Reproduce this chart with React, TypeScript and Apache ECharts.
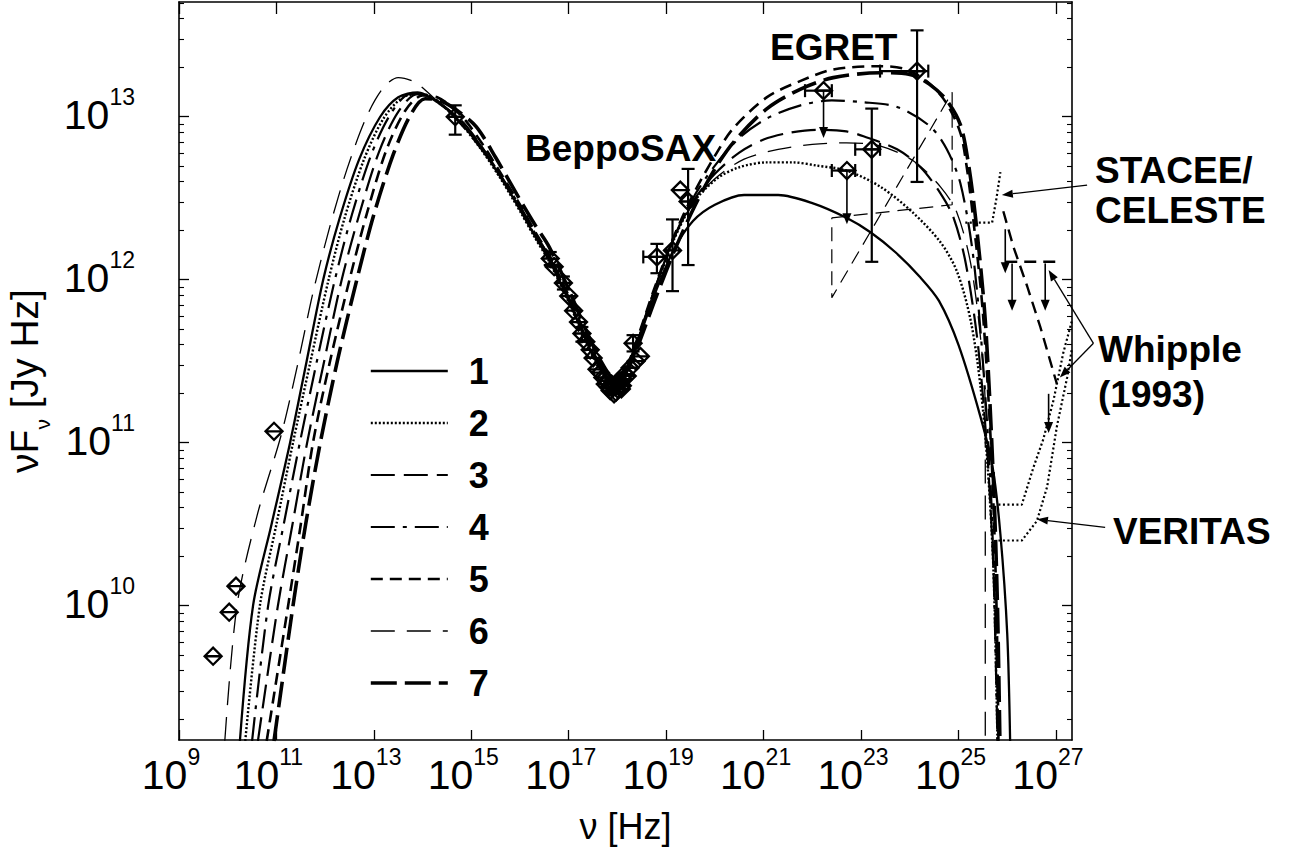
import React, { useEffect, useRef } from "react";
import * as echarts from "echarts";

const FONT = "'Liberation Sans', Arial, Helvetica, sans-serif";

// ---- axis extents (log10 units) ----
const LOG_NU_MIN = 9;
const LOG_NU_MAX = 27.33;
const LOG_F_MIN = 9.176;
const LOG_F_MAX = 13.704;

const xTickExponents = [9, 11, 13, 15, 17, 19, 21, 23, 25, 27];
const yTickExponents = [10, 11, 12, 13];
const yMinorTicks: number[] = [];
for (let n = 9; n <= 13; n++) {
  for (let k = 2; k <= 9; k++) {
    const v = n + Math.log10(k);
    if (v > LOG_F_MIN && v < LOG_F_MAX) yMinorTicks.push(v);
  }
}

// ---- model curves: [log10 nu, log10 nuFnu] ----
const modelNames = ["1", "2", "3", "4", "5", "6", "7"];

const model1 = [[10.25,9.17],[10.52,10.0],[10.9,10.5],[11.28,11.0],[11.62,11.5],[11.96,12.0],[12.3,12.38],[12.7,12.74],[13.13,13.0],[13.5,13.12],[13.9,13.15],[14.3,13.09],[14.7,12.99],[15.2,12.81],[15.6,12.63],[16.0,12.43],[16.3,12.27],[16.6,12.12],[17.0,11.87],[17.35,11.63],[17.65,11.45],[17.9,11.36],[18.1,11.38],[18.35,11.56],[18.75,11.9],[19.15,12.18],[19.55,12.36],[20.0,12.46],[20.6,12.52],[21.3,12.52],[22.0,12.47],[22.7,12.38],[23.2,12.29],[23.7,12.17],[24.2,12.02],[24.6,11.87],[25.0,11.6],[25.45,11.16],[25.7,10.85],[25.86,10.44],[26.0,9.83],[26.06,9.17]];
const model2 = [[10.36,9.17],[10.66,10.0],[11.0,10.5],[11.34,11.0],[11.7,11.5],[12.07,12.0],[12.4,12.38],[12.8,12.74],[13.2,12.99],[13.6,13.12],[14.0,13.14],[14.4,13.07],[14.75,12.97],[15.2,12.8],[15.6,12.62],[16.0,12.42],[16.3,12.26],[16.6,12.11],[17.0,11.86],[17.35,11.62],[17.65,11.44],[17.9,11.35],[18.1,11.38],[18.35,11.57],[18.75,11.92],[19.15,12.24],[19.55,12.47],[20.04,12.62],[20.5,12.69],[21.07,12.72],[21.6,12.72],[22.1,12.7],[22.7,12.67],[23.4,12.57],[24.07,12.41],[24.63,12.23],[24.97,12.05],[25.25,11.75],[25.45,11.35],[25.6,10.85],[25.72,10.2],[25.8,9.17]];
const model3 = [[10.62,9.17],[11.03,10.0],[11.33,10.5],[11.63,11.0],[11.98,11.5],[12.34,12.0],[12.7,12.4],[13.1,12.78],[13.5,13.03],[13.9,13.14],[14.2,13.12],[14.5,13.05],[14.85,12.96],[15.25,12.8],[15.6,12.64],[16.0,12.45],[16.3,12.29],[16.6,12.14],[17.0,11.89],[17.35,11.65],[17.65,11.47],[17.9,11.38],[18.1,11.41],[18.35,11.58],[18.75,11.93],[19.15,12.25],[19.55,12.48],[20.0,12.65],[20.5,12.78],[21.0,12.86],[21.5,12.9],[22.1,12.92],[22.7,12.91],[23.05,12.88],[23.74,12.8],[24.22,12.69],[24.63,12.53],[24.9,12.38],[25.15,12.1],[25.4,11.6],[25.6,10.9],[25.75,10.0],[25.82,9.17]];
const model4 = [[10.5,9.17],[10.83,10.0],[11.15,10.5],[11.48,11.0],[11.83,11.5],[12.2,12.0],[12.55,12.4],[12.95,12.77],[13.35,13.02],[13.75,13.14],[14.1,13.13],[14.45,13.06],[14.8,12.97],[15.2,12.82],[15.6,12.64],[16.0,12.45],[16.3,12.29],[16.6,12.14],[17.0,11.89],[17.35,11.64],[17.65,11.46],[17.9,11.37],[18.1,11.4],[18.35,11.58],[18.75,11.93],[19.15,12.25],[19.55,12.5],[20.0,12.7],[20.5,12.87],[21.07,12.99],[21.76,13.07],[22.4,13.1],[23.0,13.09],[23.74,13.06],[24.42,12.94],[24.76,12.8],[25.04,12.59],[25.3,12.15],[25.5,11.5],[25.68,10.6],[25.8,9.17]];
const model5 = [[10.8,9.17],[11.24,10.0],[11.5,10.5],[11.75,11.0],[12.1,11.5],[12.5,12.0],[12.85,12.4],[13.25,12.79],[13.65,13.04],[14.0,13.13],[14.3,13.12],[14.6,13.06],[14.9,12.97],[15.3,12.8],[15.65,12.63],[16.0,12.46],[16.3,12.3],[16.6,12.15],[17.0,11.9],[17.35,11.66],[17.65,11.47],[17.9,11.38],[18.1,11.41],[18.35,11.59],[18.75,11.94],[19.15,12.26],[19.55,12.52],[20.0,12.76],[20.38,12.93],[21.07,13.12],[21.76,13.22],[22.43,13.29],[23.39,13.31],[23.94,13.29],[24.42,13.2],[24.76,13.08],[25.04,12.9],[25.17,12.69],[25.3,12.38],[25.5,11.8],[25.68,10.9],[25.78,10.0],[25.82,9.17]];
const model6 = [[9.94,9.17],[10.19,10.0],[10.6,10.55],[11.1,11.05],[11.45,11.5],[11.75,11.92],[12.1,12.33],[12.45,12.68],[12.85,13.0],[13.2,13.18],[13.5,13.24],[13.85,13.21],[14.25,13.11],[14.7,12.98],[15.2,12.8],[15.6,12.63],[16.0,12.44],[16.3,12.28],[16.6,12.13],[17.0,11.88],[17.35,11.64],[17.65,11.46],[17.9,11.37],[18.1,11.4],[18.35,11.58],[18.75,11.93],[19.15,12.25],[19.55,12.47],[20.0,12.62],[20.6,12.74],[21.3,12.8],[22.0,12.83],[22.7,12.84],[23.4,12.82],[24.07,12.73],[24.63,12.57],[24.97,12.41],[25.25,12.1],[25.45,11.65],[25.55,11.2],[25.55,9.17]];
const model7 = [[10.95,9.17],[11.34,10.0],[11.6,10.5],[11.9,11.0],[12.25,11.5],[12.65,12.0],[13.0,12.4],[13.4,12.77],[13.75,13.01],[14.05,13.11],[14.35,13.1],[14.7,13.04],[15.1,12.94],[15.5,12.75],[16.0,12.49],[16.3,12.34],[16.6,12.2],[17.0,11.94],[17.4,11.66],[17.7,11.48],[17.95,11.39],[18.15,11.42],[18.4,11.58],[18.8,11.9],[19.2,12.2],[19.6,12.46],[20.0,12.68],[20.4,12.85],[21.07,13.05],[21.76,13.17],[22.43,13.24],[23.4,13.27],[24.0,13.26],[24.4,13.2],[24.76,13.1],[25.04,12.95],[25.2,12.72],[25.35,12.38],[25.55,11.75],[25.72,10.75],[25.8,10.0],[25.85,9.17]];
const modelData = [model1, model2, model3, model4, model5, model6, model7];

const modelStyles: { width: number; type: any }[] = [
  { width: 2.3, type: "solid" },
  { width: 2.4, type: [2, 2] },
  { width: 2.2, type: [24, 9] },
  { width: 2.2, type: [24, 8, 4, 8] },
  { width: 2.6, type: [12, 7] },
  { width: 1.3, type: [24, 12] },
  { width: 3.6, type: [26, 8] },
];

// ---- EGRET spectral butterfly ----
const egretButterfly = [[22.4,12.38],[24.87,12.46],[24.87,13.15],[22.4,11.89],[22.4,12.38]];

// ---- TeV sensitivities / limits ----
const stacee = [[25.14,12.35],[25.69,12.35],[25.78,12.5],[25.86,12.66]];
const whippleLine = [[25.92,12.42],[26.13,12.2],[26.41,11.96],[26.68,11.71],[27.02,11.36]];
const whippleLimit = [[25.96,12.11],[27.05,12.11]];
const veritasUpper = [[25.82,10.62],[26.3,10.62],[26.54,10.85],[26.74,11.02],[26.95,11.26],[27.15,11.55],[27.33,11.75]];
const veritasLower = [[25.82,10.4],[26.3,10.4],[26.61,10.52],[26.82,10.73],[27.02,11.1],[27.23,11.4],[27.33,11.58]];

// ---- observations ----
const radioPoints = [[9.70,9.69],[10.03,9.96],[10.17,10.12],[10.95,11.07]];
const opticalPoints = [[14.67,13.0]];
const xrayPoints = [[16.62,12.13],[16.70,12.08],[16.89,11.98],[17.0,11.9],[17.10,11.81],[17.2,11.74],[17.27,11.67],[17.35,11.62],[17.44,11.57],[17.5,11.52],[17.58,11.45],[17.65,11.43],[17.70,11.40],[17.75,11.36],[17.79,11.38],[17.82,11.34],[17.85,11.32],[17.88,11.36],[17.91,11.34],[17.93,11.30],[17.95,11.36],[17.97,11.31],[18.0,11.33],[18.02,11.37],[18.05,11.38],[18.08,11.33],[18.1,11.35],[18.12,11.39],[18.15,11.42],[18.2,11.41],[18.26,11.46],[18.32,11.61],[18.38,11.50],[18.47,11.53]];
const saxPoints = [[18.81,12.14],[19.13,12.18],[19.29,12.55],[19.45,12.48]];
const egretPoints = [[22.23,13.16],[22.71,12.67],[23.22,12.80],[24.15,13.28]];

// [logNu, logF, nuLo, nuHi, fLo, fHi]
const errorBars = [
  [14.67,13.0,14.67,14.67,12.89,13.07],
  [16.62,12.13,16.62,16.62,12.09,12.17],
  [16.89,11.98,16.89,16.89,11.94,12.02],
  [17.27,11.67,17.27,17.27,11.62,11.71],
  [18.32,11.61,18.32,18.32,11.56,11.66],
  [18.81,12.14,18.53,19.02,12.04,12.22],
  [19.13,12.18,19.13,19.13,11.93,12.37],
  [19.45,12.48,19.45,19.45,12.09,12.68],
  [22.23,13.16,21.85,22.40,13.16,13.16],
  [22.71,12.67,22.40,22.88,12.67,12.67],
  [23.22,12.80,22.88,23.39,12.11,13.05],
  [24.15,13.28,23.39,24.38,12.60,13.53],
];

// upper limits [logNu, from, to]
const upperLimits = [
  [22.23,13.16,12.87],
  [22.71,12.67,12.34],
  [25.96,12.31,12.04],
  [26.10,12.10,11.81],
  [26.78,12.10,11.81],
  [26.85,11.30,11.06],
];

// annotation arrows [x1, y1, x2, y2]
const annotationArrows = [
  [27.64,12.58,25.89,12.52],
  [27.77,11.61,26.85,12.06],
  [27.77,11.61,27.08,11.40],
  [28.01,10.48,26.61,10.53],
];

const diamondPath = "path://M0,10L10,0L20,10L10,20ZM0,10L20,10";

export default function App() {
  const ref = useRef<HTMLDivElement>(null);

  useEffect(() => {
    if (!ref.current) return;
    const chart = echarts.init(ref.current, undefined, { renderer: "svg" });

    const black = "#000";
    const xLabelRich = {
      b: { fontSize: 41, fontFamily: FONT, color: black, verticalAlign: "bottom" },
      s: { fontSize: 23, fontFamily: FONT, color: black, verticalAlign: "top", padding: [0, 16, 27, 0] },
    };
    const yLabelRich = {
      b: { fontSize: 41, fontFamily: FONT, color: black, verticalAlign: "bottom" },
      s: { fontSize: 23, fontFamily: FONT, color: black, verticalAlign: "top", padding: [0, 0, 27, 0] },
    };
    const supFormatter = (v: number) => `{b|10}{s|${Math.round(v)}}`;
    const axisLine = { show: true, lineStyle: { color: black, width: 1.6 } };

    const lineSeries = modelData.map((d, i) => ({
      name: modelNames[i],
      type: "line",
      data: d,
      symbol: "none",
      smooth: 0.3,
      silent: true,
      z: 3,
      itemStyle: { color: black },
      lineStyle: { color: black, width: modelStyles[i].width, type: modelStyles[i].type },
    }));

    const extraLine = (data: number[][], width: number, type: any) => ({
      type: "line",
      data,
      symbol: "none",
      silent: true,
      z: 3,
      itemStyle: { color: black },
      lineStyle: { color: black, width, type },
    });

    const scatter = (data: number[][]) => ({
      type: "scatter",
      data,
      symbol: diamondPath,
      symbolSize: 17,
      silent: true,
      z: 5,
      itemStyle: { color: "rgba(255,255,255,0)", borderColor: black, borderWidth: 2.3, opacity: 1 },
    });

    const option: any = {
      animation: false,
      backgroundColor: "#fff",
      textStyle: { fontFamily: FONT },
      grid: { left: 179, top: 2, width: 893, height: 738, containLabel: false, outerBoundsMode: "none" },
      legend: {
        data: modelNames,
        orient: "vertical",
        left: 369,
        top: 351,
        itemWidth: 77,
        itemHeight: 14,
        itemGap: 12,
        selectedMode: false,
        padding: 0,
        itemStyle: { opacity: 0, color: "rgba(0,0,0,0)", borderWidth: 0 },
        lineStyle: { width: "inherit", type: "inherit", color: black },
        textStyle: { fontSize: 36, fontWeight: "bold", fontFamily: FONT, color: black, lineHeight: 40, padding: [0, 0, 0, 16] },
      },
      xAxis: [
        {
          type: "value",
          min: LOG_NU_MIN,
          max: LOG_NU_MAX,
          position: "bottom",
          axisLine,
          axisTick: { show: true, inside: true, length: 10, customValues: xTickExponents, lineStyle: { color: black, width: 1.3 } },
          axisLabel: { show: true, margin: 5, customValues: xTickExponents, formatter: supFormatter, rich: xLabelRich },
          splitLine: { show: false },
          name: "ν [Hz]",
          nameLocation: "middle",
          nameGap: 68,
          nameTextStyle: { fontSize: 36, fontFamily: FONT, color: black },
        },
        {
          type: "value",
          min: LOG_NU_MIN,
          max: LOG_NU_MAX,
          position: "top",
          axisLine,
          axisTick: { show: true, inside: true, length: 12, customValues: xTickExponents, lineStyle: { color: black, width: 1.3 } },
          axisLabel: { show: false },
          splitLine: { show: false },
        },
      ],
      yAxis: [
        {
          type: "value",
          min: LOG_F_MIN,
          max: LOG_F_MAX,
          position: "left",
          axisLine,
          axisTick: { show: true, inside: true, length: 10, customValues: yTickExponents, lineStyle: { color: black, width: 1.3 } },
          axisLabel: { show: true, margin: 44, customValues: yTickExponents, formatter: supFormatter, rich: yLabelRich, padding: [0, 0, 12, 0] },
          splitLine: { show: false },
          name: "{a|νF}{sub|ν}{a| [Jy Hz]}",
          nameLocation: "middle",
          nameRotate: 90,
          nameGap: 123,
          nameTextStyle: {
            fontFamily: FONT,
            color: black,
            padding: [0, 20, 0, 0],
            rich: {
              a: { fontSize: 39, fontFamily: FONT, color: black },
              sub: { fontSize: 21, fontFamily: FONT, color: black, verticalAlign: "bottom", padding: [36, 0, 0, 0] },
            },
          },
        },
        {
          type: "value",
          min: LOG_F_MIN,
          max: LOG_F_MAX,
          position: "left",
          axisLine: { show: false },
          axisTick: { show: true, inside: true, length: 5, customValues: yMinorTicks, lineStyle: { color: black, width: 1.1 } },
          axisLabel: { show: false },
          splitLine: { show: false },
        },
        {
          type: "value",
          min: LOG_F_MIN,
          max: LOG_F_MAX,
          position: "right",
          axisLine,
          axisTick: { show: true, inside: true, length: 10, customValues: yTickExponents, lineStyle: { color: black, width: 1.3 } },
          axisLabel: { show: false },
          splitLine: { show: false },
        },
        {
          type: "value",
          min: LOG_F_MIN,
          max: LOG_F_MAX,
          position: "right",
          axisLine: { show: false },
          axisTick: { show: true, inside: true, length: 5, customValues: yMinorTicks, lineStyle: { color: black, width: 1.1 } },
          axisLabel: { show: false },
          splitLine: { show: false },
        },
      ],
      series: [
        ...lineSeries,
        extraLine(egretButterfly, 1.2, [14, 8]),
        extraLine(stacee, 2.2, [2, 2.5]),
        extraLine(whippleLine, 2.4, [12, 7]),
        extraLine(whippleLimit, 2.4, [12, 7]),
        extraLine(veritasUpper, 2.2, [2, 2.5]),
        extraLine(veritasLower, 2.2, [2, 2.5]),
        scatter(radioPoints),
        scatter(opticalPoints),
        scatter(xrayPoints),
        scatter(saxPoints),
        scatter(egretPoints),
        {
          type: "custom",
          data: errorBars,
          silent: true,
          z: 6,
          encode: { x: 0, y: 1 },
          renderItem: (_p: any, api: any) => {
            const y = api.value(1);
            const x = api.value(0);
            const nlo = api.value(2), nhi = api.value(3), flo = api.value(4), fhi = api.value(5);
            const style = { stroke: black, lineWidth: 2.2 };
            const cap = 6.5;
            const children: any[] = [];
            if (nhi > nlo) {
              const a = api.coord([nlo, y]);
              const b = api.coord([nhi, y]);
              children.push({ type: "line", shape: { x1: a[0], y1: a[1], x2: b[0], y2: b[1] }, style });
              children.push({ type: "line", shape: { x1: a[0], y1: a[1] - cap, x2: a[0], y2: a[1] + cap }, style });
              children.push({ type: "line", shape: { x1: b[0], y1: b[1] - cap, x2: b[0], y2: b[1] + cap }, style });
            }
            if (fhi > flo) {
              const a = api.coord([x, flo]);
              const b = api.coord([x, fhi]);
              children.push({ type: "line", shape: { x1: a[0], y1: a[1], x2: b[0], y2: b[1] }, style });
              children.push({ type: "line", shape: { x1: a[0] - cap, y1: a[1], x2: a[0] + cap, y2: a[1] }, style });
              children.push({ type: "line", shape: { x1: b[0] - cap, y1: b[1], x2: b[0] + cap, y2: b[1] }, style });
            }
            return { type: "group", children };
          },
        },
        {
          type: "custom",
          data: upperLimits,
          silent: true,
          z: 6,
          encode: { x: 0, y: [1, 2] },
          renderItem: (_p: any, api: any) => {
            const x = api.value(0);
            const top = api.coord([x, api.value(1)]);
            const bot = api.coord([x, api.value(2)]);
            return {
              type: "group",
              children: [
                { type: "line", shape: { x1: top[0], y1: top[1], x2: bot[0], y2: bot[1] - 8 }, style: { stroke: black, lineWidth: 1.6 } },
                { type: "polygon", shape: { points: [[bot[0] - 4.5, bot[1] - 11], [bot[0] + 4.5, bot[1] - 11], [bot[0], bot[1]]] }, style: { fill: black } },
              ],
            };
          },
        },
        {
          type: "custom",
          data: annotationArrows,
          silent: true,
          clip: false,
          z: 6,
          encode: { x: [0, 2], y: [1, 3] },
          renderItem: (_p: any, api: any) => {
            const a = api.coord([api.value(0), api.value(1)]);
            const b = api.coord([api.value(2), api.value(3)]);
            const dx = b[0] - a[0], dy = b[1] - a[1];
            const len = Math.hypot(dx, dy) || 1;
            const ux = dx / len, uy = dy / len;
            const hl = 11, hw = 4;
            const base = [b[0] - ux * hl, b[1] - uy * hl];
            const p1 = [base[0] - uy * hw, base[1] + ux * hw];
            const p2 = [base[0] + uy * hw, base[1] - ux * hw];
            return {
              type: "group",
              children: [
                { type: "line", shape: { x1: a[0], y1: a[1], x2: base[0], y2: base[1] }, style: { stroke: black, lineWidth: 1.3 } },
                { type: "polygon", shape: { points: [b, p1, p2] }, style: { fill: black } },
              ],
            };
          },
        },
      ],
      graphic: [
        { type: "text", x: 770, y: 47, style: { text: "EGRET", font: `bold 37px ${FONT}`, fill: black, align: "left", verticalAlign: "middle" } },
        { type: "text", x: 525, y: 148, style: { text: "BeppoSAX", font: `bold 37px ${FONT}`, fill: black, align: "left", verticalAlign: "middle" } },
        { type: "text", x: 1095, y: 170, style: { text: "STACEE/", font: `bold 37px ${FONT}`, fill: black, align: "left", verticalAlign: "middle" } },
        { type: "text", x: 1095, y: 210, style: { text: "CELESTE", font: `bold 37px ${FONT}`, fill: black, align: "left", verticalAlign: "middle" } },
        { type: "text", x: 1098, y: 349, style: { text: "Whipple", font: `bold 37px ${FONT}`, fill: black, align: "left", verticalAlign: "middle" } },
        { type: "text", x: 1098, y: 394, style: { text: "(1993)", font: `bold 37px ${FONT}`, fill: black, align: "left", verticalAlign: "middle" } },
        { type: "text", x: 1113, y: 531, style: { text: "VERITAS", font: `bold 37px ${FONT}`, fill: black, align: "left", verticalAlign: "middle" } },
      ],
    };

    chart.setOption(option);
    return () => chart.dispose();
  }, []);

  return (
    <div
      ref={ref}
      style={{ position: "absolute", left: 0, top: 0, width: 1294, height: 855, background: "#fff" }}
    />
  );
}
